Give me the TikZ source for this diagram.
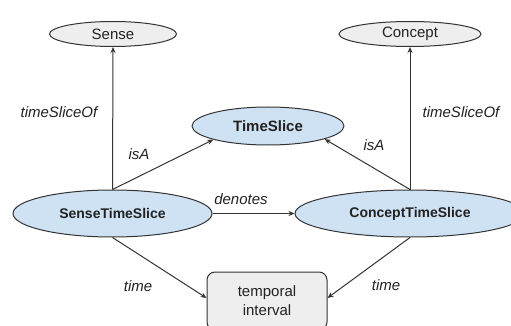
\documentclass[tikz,border=0pt]{standalone}
\usepackage{fontspec}
\setmainfont{Liberation Sans}
\usetikzlibrary{shapes.geometric,arrows.meta}
\definecolor{edgegray}{HTML}{333333}
\definecolor{txtgray}{HTML}{222222}
\definecolor{classfill}{HTML}{EEEEEE}
\definecolor{slicefill}{HTML}{CFE2F3}
\tikzset{
  classnode/.style={ellipse, draw=edgegray, line width=1pt, fill=classfill,
    inner sep=0pt, text=txtgray, font=\fontsize{15}{18}\selectfont},
  slicenode/.style={ellipse, draw=edgegray, line width=1pt, fill=slicefill,
    inner sep=0pt, text=txtgray, font=\fontsize{14}{17}\selectfont\bfseries},
  intervalnode/.style={rectangle, rounded corners=8pt, draw=edgegray, line width=1pt,
    fill=classfill, inner sep=0pt, text=txtgray, align=center,
    font=\fontsize{15}{19}\selectfont},
  rel/.style={draw=edgegray, line width=1pt, -{Stealth[length=6pt,width=5pt]}},
  rellabel/.style={text=txtgray, font=\fontsize{15}{18}\selectfont\itshape, inner sep=0pt}
}
\begin{document}
\begin{tikzpicture}[x=1pt,y=-1pt]
  \useasboundingbox (0,0) rectangle (511,326);
  \clip (0,0) rectangle (511,326);
  \fill[white] (0,0) rectangle (511,326);

  % classes
  \node[classnode, minimum width=127pt, minimum height=25pt] (sense) at (113,34) {Sense};
  \node[classnode, minimum width=142pt, minimum height=25pt] (concept) at (410,34) {Concept};

  % time slices
  \node[slicenode, minimum width=152pt, minimum height=38pt,
        font=\fontsize{15}{18}\selectfont\bfseries] (ts) at (268,126) {TimeSlice};
  \node[slicenode, minimum width=199pt, minimum height=47pt] (sts) at (112.5,213.5) {SenseTimeSlice};
  \node[slicenode, minimum width=230pt, minimum height=47pt] (cts) at (410,213.5) {ConceptTimeSlice};

  % temporal interval
  \node[intervalnode, minimum width=120pt, minimum height=58pt] (interval) at (267,301)
    {temporal\\interval};

  % relations
  \draw[rel] (sts.north) -- (sense.south);
  \draw[rel] (cts.north) -- (concept.south);
  \draw[rel] (sts.north) -- (ts.194);
  \draw[rel] (cts.north) -- (ts.-13);
  \draw[rel] (sts.east) -- (cts.west);
  \draw[rel] (sts.south) -- ([yshift=3pt]interval.west);
  \draw[rel] (cts.south) -- ([yshift=3pt]interval.east);

  % relation labels
  \node[rellabel] (lts1) at (59,112) {timeSliceOf};
  \node[rellabel] (lts2) at (461,112) {timeSliceOf};
  \node[rellabel] (lisa1) at (139,154) {isA};
  \node[rellabel] (lisa2) at (374,145) {isA};
  \node[rellabel] (lden) at (241,199) {denotes};
  \node[rellabel] (ltime1) at (138,286) {time};
  \node[rellabel] (ltime2) at (386,285) {time};
\end{tikzpicture}
\end{document}
